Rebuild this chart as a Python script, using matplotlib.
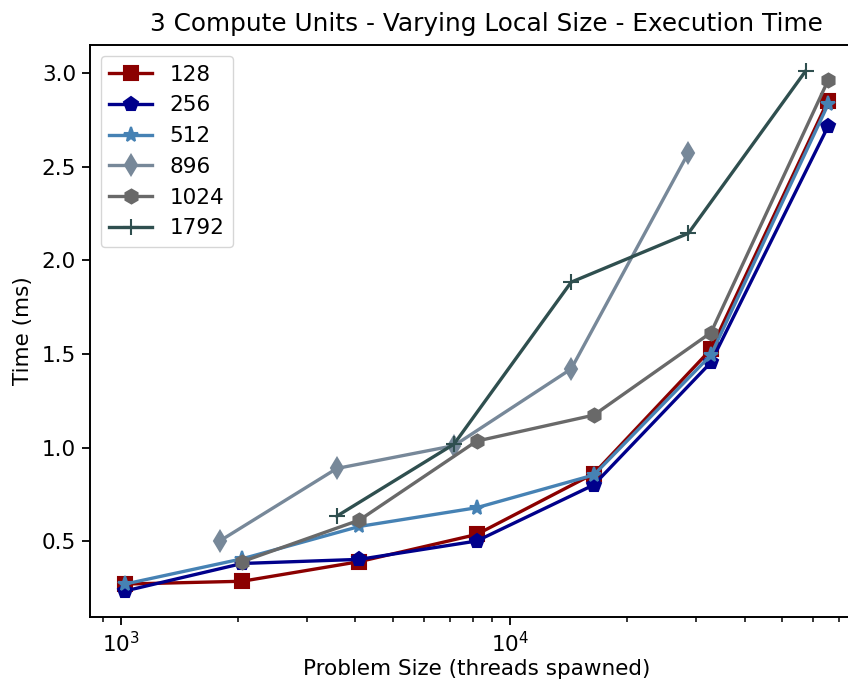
import matplotlib
matplotlib.use('Agg')
import matplotlib.pyplot as plt
import numpy as np

# execution time (ms) per work-group local size, 3 compute units
size_128 = [1024, 2048, 4096, 8192, 16384, 32768, 65536]
time_128 = [0.27, 0.285, 0.39, 0.535, 0.86, 1.525, 2.855]

size_256 = [1024, 2048, 4096, 8192, 16384, 32768, 65536]
time_256 = [0.233, 0.38, 0.402, 0.50, 0.80, 1.455, 2.717]

size_512 = [1024, 2048, 4096, 8192, 16384, 32768, 65536]
time_512 = [0.27, 0.405, 0.578, 0.678, 0.853, 1.494, 2.835]

size_896 = [1792, 3584, 7168, 14336, 28672]
time_896 = [0.50, 0.888, 1.01, 1.42, 2.575]

size_1024 = [2048, 4096, 8192, 16384, 32768, 65536]
time_1024 = [0.39, 0.612, 1.034, 1.173, 1.614, 2.963]

size_1792 = [3584, 7168, 14336, 28672, 57344]
time_1792 = [0.633, 1.018, 1.884, 2.145, 3.012]

series = [
    ('128', size_128, time_128, 's', '#8B0000'),
    ('256', size_256, time_256, 'p', '#00008B'),
    ('512', size_512, time_512, '*', '#4682B4'),
    ('896', size_896, time_896, 'd', '#778899'),
    ('1024', size_1024, time_1024, 'h', '#696969'),
    ('1792', size_1792, time_1792, '+', '#2F4F4F'),
]

fs = 15.5
fig = plt.figure(figsize=(8.48, 6.84), dpi=100)
ax = fig.add_axes([0.106, 0.098, 0.912, 0.836])

for label, x, y, m, c in series:
    ax.plot(x, y, marker=m, color=c, label=label, linewidth=2.4,
            markersize=10 if m not in ('*', '+') else 11, markeredgewidth=1.5)

ax.set_xscale('log')
ax.set_title('3 Compute Units - Varying Local Size - Execution Time', fontsize=17.8,
             pad=10, x=0.513)
ax.set_xlabel('Problem Size (threads spawned)', fontsize=fs, labelpad=2)
ax.set_ylabel('Time (ms)', fontsize=fs, labelpad=6)
ax.set_yticks([0.5, 1.0, 1.5, 2.0, 2.5, 3.0])
ax.tick_params(labelsize=fs, width=1.3, length=6, pad=4)
ax.tick_params(which='minor', width=1.1, length=3.5)
for s in ax.spines.values():
    s.set_linewidth(1.4)
ax.legend(loc='upper left', fontsize=fs, handlelength=2.0)

fig.savefig('out.png', dpi=100)
